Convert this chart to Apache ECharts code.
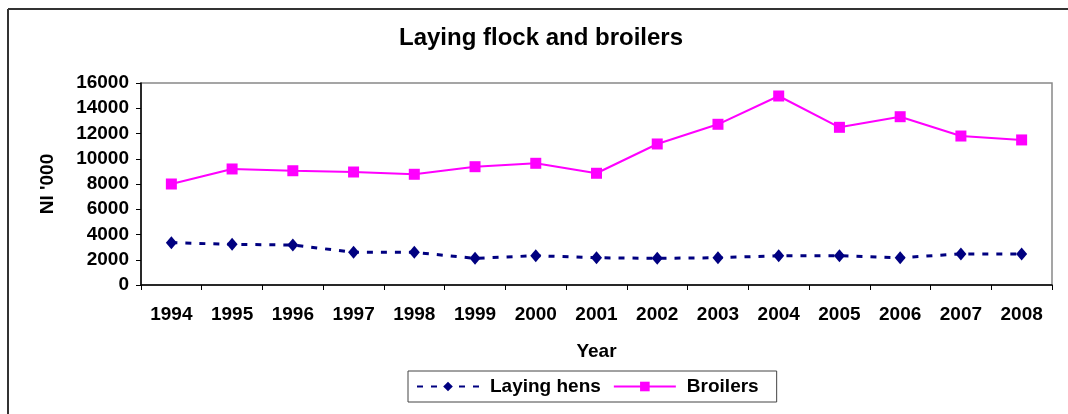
<!DOCTYPE html>
<html lang="en">
<head>
    <meta charset="UTF-8">
    <title>Laying flock and broilers</title>
    <script src="https://cdn.jsdelivr.net/npm/echarts@6/dist/echarts.min.js"></script>
    <style>
        html, body { margin: 0; padding: 0; background: #fff; }
        #main { width: 1068px; height: 414px; }
    </style>
</head>
<body>
    <div id="main"></div>
    <script>
        // data
        var years = ['1994', '1995', '1996', '1997', '1998', '1999', '2000', '2001',
            '2002', '2003', '2004', '2005', '2006', '2007', '2008'];
        var layingHens = [3350, 3220, 3170, 2590, 2590, 2110, 2320, 2160,
            2110, 2160, 2320, 2320, 2160, 2460, 2460];
        var broilers = [8000, 9190, 9050, 8950, 8770, 9370, 9640, 8850,
            11170, 12730, 14970, 12490, 13330, 11800, 11490];

        var font = 'Liberation Sans, Arial, sans-serif';

        var chart = echarts.init(document.getElementById('main'));

        var option = {
            animation: false,
            title: {
                text: 'Laying flock and broilers',
                left: 541,
                top: 26,
                textAlign: 'center',
                padding: 0,
                textStyle: { fontFamily: font, fontSize: 24, fontWeight: 'bold', color: '#000' }
            },
            // frame round the chart (top and left edges only visible)
            graphic: [
                { type: 'line', shape: { x1: 8, y1: 9, x2: 1068, y2: 9 }, style: { stroke: '#333', lineWidth: 2 } },
                { type: 'line', shape: { x1: 8, y1: 9, x2: 8, y2: 414 }, style: { stroke: '#333', lineWidth: 2 } }
            ],
            legend: {
                left: 408,
                top: 371,
                padding: [6, 18, 6, 8],
                itemWidth: 62,
                itemHeight: 12,
                itemGap: 12,
                borderColor: '#444',
                borderWidth: 1,
                textStyle: { fontFamily: font, fontSize: 19, fontWeight: 'bold', color: '#000', padding: [0, 0, 0, 6] },
                data: ['Laying hens', 'Broilers']
            },
            grid: {
                left: 141,
                right: 16,
                top: 83,
                bottom: 129,
                show: true,
                borderColor: '#888',
                borderWidth: 1.5
            },
            xAxis: {
                type: 'category',
                data: years,
                name: 'Year',
                nameLocation: 'middle',
                nameGap: 57,
                nameTextStyle: { fontFamily: font, fontSize: 19, fontWeight: 'bold', color: '#000' },
                axisLine: { lineStyle: { color: '#000', width: 1.5 } },
                axisTick: { show: true, length: 5, lineStyle: { color: '#000' } },
                axisLabel: { margin: 20, fontFamily: font, fontSize: 19, fontWeight: 'bold', color: '#000' },
                splitLine: { show: false }
            },
            yAxis: {
                type: 'value',
                min: 0,
                max: 16000,
                interval: 2000,
                name: "Nl '000",
                nameLocation: 'middle',
                nameGap: 84,
                nameTextStyle: { fontFamily: font, fontSize: 19, fontWeight: 'bold', color: '#000' },
                axisLine: { show: true, lineStyle: { color: '#000', width: 1.5 } },
                axisTick: { show: true, length: 5, lineStyle: { color: '#000' } },
                axisLabel: {
                    margin: 12, fontFamily: font, fontSize: 19, fontWeight: 'bold', color: '#000',
                    formatter: function (v) { return String(v); }
                },
                splitLine: { show: false }
            },
            series: [{
                name: 'Laying hens',
                type: 'line',
                data: layingHens,
                symbol: 'diamond',
                symbolSize: [11, 13],
                itemStyle: { color: '#000080' },
                lineStyle: { color: '#000080', width: 3, type: [6, 8] }
            }, {
                name: 'Broilers',
                type: 'line',
                data: broilers,
                symbol: 'rect',
                symbolSize: 11,
                itemStyle: { color: '#ff00ff' },
                lineStyle: { color: '#ff00ff', width: 2 }
            }]
        };

        chart.setOption(option);
    </script>
</body>
</html>
